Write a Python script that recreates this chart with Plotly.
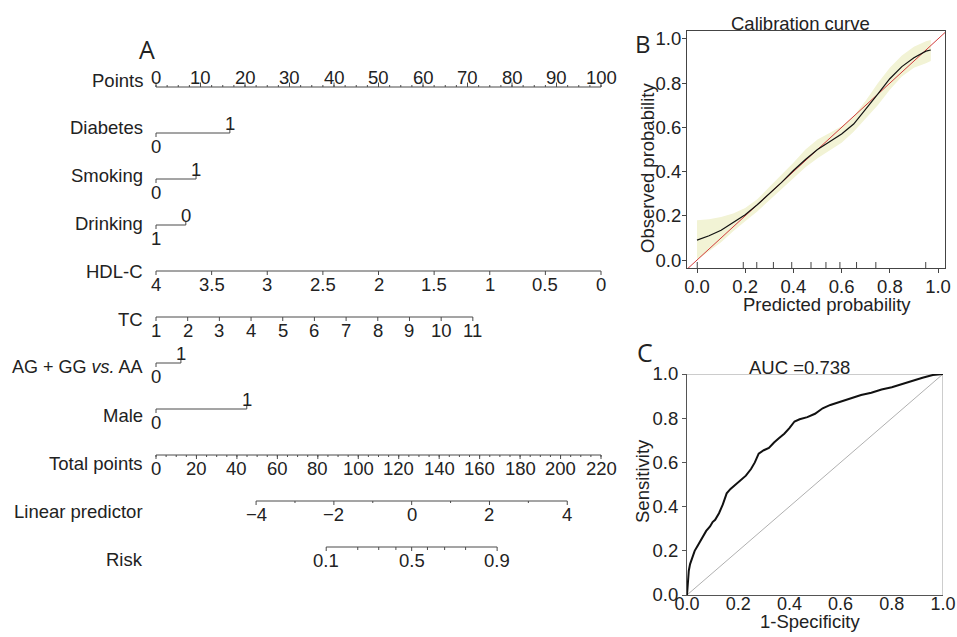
import numpy as np
import plotly.graph_objects as go

W, H = 957, 637          # window size
OFF = 0                  # body margin removed by post_script
FW, FH = W - OFF, H - OFF
FONT = "Liberation Sans"
TXT = "#222222"
LINE = "#4a4a4a"
FS = 18.5

# ---------------- Nomogram data ----------------
row_labels = ["Points", "Diabetes", "Smoking", "Drinking", "HDL-C", "TC",
              "AG + GG <i>vs.</i> AA", "Male", "Total points", "Linear predictor", "Risk"]

points_ticks = list(range(0, 101, 10))
points_minor = list(np.arange(0, 100.01, 2.5))

diabetes_levels = ["0", "1"]
diabetes_pts = [0.0, 16.6]
smoking_levels = ["0", "1"]
smoking_pts = [0.0, 9.0]
drinking_levels = ["1", "0"]
drinking_pts = [0.0, 6.7]
agg_levels = ["0", "1"]
agg_pts = [0.0, 5.6]
male_levels = ["0", "1"]
male_pts = [0.0, 20.4]

hdl_values = [4, 3.5, 3, 2.5, 2, 1.5, 1, 0.5, 0]
hdl_labels = ["4", "3.5", "3", "2.5", "2", "1.5", "1", "0.5", "0"]
hdl_max = 4.0
hdl_pts_per_unit = 25.0

tc_values = list(range(1, 12))
tc_min = 1
tc_pts_per_unit = 7.12

total_ticks = list(range(0, 221, 20))
total_minor = list(range(0, 221, 5))
total_max = 220.0

lp_ticks = [-4, -2, 0, 2, 4]
lp_minor = [-3, -1, 1, 3]
lp_zero_total = 126.4
lp_total_per_unit = 19.23

risk_ticks = [0.1, 0.5, 0.9]
risk_minor = [0.2, 0.3, 0.4, 0.6, 0.7, 0.8]

# ---------------- Calibration data ----------------
cal_x = [0.0, 0.05, 0.1, 0.15, 0.2, 0.25, 0.3, 0.35, 0.4, 0.45, 0.5, 0.55, 0.6,
         0.65, 0.7, 0.75, 0.8, 0.85, 0.9, 0.95, 0.97]
cal_obs = [0.09, 0.11, 0.135, 0.17, 0.205, 0.25, 0.3, 0.35, 0.405, 0.455, 0.5,
           0.535, 0.57, 0.615, 0.68, 0.75, 0.82, 0.875, 0.915, 0.945, 0.95]
cal_hi = [0.18, 0.185, 0.195, 0.21, 0.235, 0.275, 0.33, 0.385, 0.44, 0.5, 0.545,
          0.575, 0.605, 0.65, 0.72, 0.8, 0.87, 0.925, 0.965, 0.99, 0.995]
cal_lo = [0.0, 0.04, 0.08, 0.13, 0.175, 0.22, 0.27, 0.32, 0.37, 0.42, 0.46,
          0.495, 0.53, 0.58, 0.64, 0.7, 0.77, 0.83, 0.87, 0.89, 0.9]
cal_rug = [0.001, 0.192, 0.248, 0.317, 0.393, 0.473, 0.535, 0.593, 0.662, 0.742, 0.949]
prob_ticks = [0.0, 0.2, 0.4, 0.6, 0.8, 1.0]
prob_ticktext = ["0.0", "0.2", "0.4", "0.6", "0.8", "1.0"]

# ---------------- ROC data ----------------
roc_fpr = [0, 0.003, 0.007, 0.012, 0.02, 0.03, 0.04, 0.05, 0.06, 0.075, 0.09, 0.1,
           0.11, 0.125, 0.14, 0.155, 0.17, 0.19, 0.21, 0.23, 0.25, 0.265, 0.28, 0.3,
           0.32, 0.34, 0.36, 0.38, 0.4, 0.42, 0.44, 0.47, 0.5, 0.53, 0.56, 0.6, 0.64,
           0.68, 0.72, 0.76, 0.8, 0.84, 0.88, 0.92, 0.96, 1.0]
roc_tpr = [0, 0.05, 0.11, 0.14, 0.17, 0.2, 0.22, 0.24, 0.26, 0.29, 0.31, 0.33,
           0.34, 0.37, 0.41, 0.46, 0.48, 0.5, 0.52, 0.54, 0.57, 0.6, 0.64, 0.655,
           0.665, 0.69, 0.71, 0.73, 0.755, 0.785, 0.795, 0.805, 0.82, 0.845, 0.86,
           0.875, 0.89, 0.905, 0.915, 0.93, 0.94, 0.955, 0.97, 0.983, 0.995, 1.0]
auc_text = "AUC =0.738"

# ---------------- Layout geometry (window pixels) ----------------
PX_PER_PT = 4.45
X0_PX = 156
NOMO_R = 620
PX_PER_ROW = 46.0
ROW0_PX = 87
BELOW = 13 / PX_PER_ROW
ABOVE = -10 / PX_PER_ROW
LABEL_RIGHT_PX = 145


def dx(px):
    return (px - OFF) / FW


def dy(py):
    return 1 - (py - OFF) / FH


fig = go.Figure()
annotations = []


def add_lines(xs, ys, color=LINE, width=1, xa="x", ya="y"):
    fig.add_trace(go.Scatter(x=xs, y=ys, mode="lines", line=dict(color=color, width=width),
                             hoverinfo="skip", showlegend=False, xaxis=xa, yaxis=ya))


def ticks(xs, row, length_px, direction):
    X, Y = [], []
    for x in xs:
        X += [x, x, None]
        Y += [row, row + direction * length_px / PX_PER_ROW, None]
    return X, Y


def label(x, y, text, xanchor="center", size=FS, xref="x", yref="y"):
    annotations.append(dict(x=x, y=y, xref=xref, yref=yref, text=text, showarrow=False,
                            xanchor=xanchor, yanchor="middle",
                            font=dict(family=FONT, size=size, color=TXT)))


# Row labels
for i, name in enumerate(row_labels):
    ly = i * 1.0413 - 0.152
    label((LABEL_RIGHT_PX - X0_PX) / PX_PER_PT, ly, name, xanchor="right",
          size=18 if "vs." in name else FS)

# Points row (0)
add_lines([0, 100], [0, 0])
X, Y = ticks(points_ticks, 0, 4.5, -1)
add_lines(X, Y)
X, Y = ticks(points_minor, 0, 2, -1)
add_lines(X, Y)
for v in points_ticks:
    label(v, ABOVE, str(v))

# Binary rows
for row, levels, pts in [(1, diabetes_levels, diabetes_pts), (2, smoking_levels, smoking_pts),
                         (3, drinking_levels, drinking_pts), (6, agg_levels, agg_pts),
                         (7, male_levels, male_pts)]:
    add_lines([pts[0], pts[1]], [row, row])
    X, Y = ticks([pts[0]], row, 4, 1)
    add_lines(X, Y)
    X, Y = ticks([pts[1]], row, 4, -1)
    add_lines(X, Y)
    label(pts[0], row + BELOW, levels[0])
    label(pts[1], row + ABOVE, levels[1])

# HDL-C row (4)
hdl_pts = [(hdl_max - v) * hdl_pts_per_unit for v in hdl_values]
add_lines([min(hdl_pts), max(hdl_pts)], [4, 4])
X, Y = ticks(hdl_pts, 4, 4, 1)
add_lines(X, Y)
for p, t in zip(hdl_pts, hdl_labels):
    label(p, 4 + BELOW, t)

# TC row (5)
tc_pts = [(v - tc_min) * tc_pts_per_unit for v in tc_values]
add_lines([min(tc_pts), max(tc_pts)], [5, 5])
X, Y = ticks(tc_pts, 5, 4, 1)
add_lines(X, Y)
for p, v in zip(tc_pts, tc_values):
    label(p, 5 + BELOW, str(v))


# Total points row (8)
def tp_pos(tp):
    return tp * 100.0 / total_max


add_lines([tp_pos(0), tp_pos(total_max)], [8, 8])
X, Y = ticks([tp_pos(v) for v in total_ticks], 8, 4, 1)
add_lines(X, Y)
X, Y = ticks([tp_pos(v) for v in total_minor], 8, 2, 1)
add_lines(X, Y)
for v in total_ticks:
    label(tp_pos(v), 8 + BELOW, str(v))


# Linear predictor row (9)
def lp_pos(lp):
    return tp_pos(lp_zero_total + lp * lp_total_per_unit)


add_lines([lp_pos(min(lp_ticks)), lp_pos(max(lp_ticks))], [9, 9])
X, Y = ticks([lp_pos(v) for v in lp_ticks], 9, 4, 1)
add_lines(X, Y)
X, Y = ticks([lp_pos(v) for v in lp_minor], 9, 2, 1)
add_lines(X, Y)
for v in lp_ticks:
    label(lp_pos(v), 9 + BELOW, str(v).replace("-", "\u2212"))


# Risk row (10)
def risk_pos(p):
    return lp_pos(np.log(p / (1 - p)))


add_lines([risk_pos(min(risk_ticks)), risk_pos(max(risk_ticks))], [10, 10])
X, Y = ticks([risk_pos(v) for v in risk_ticks], 10, 4, 1)
add_lines(X, Y)
X, Y = ticks([risk_pos(v) for v in risk_minor], 10, 3, 1)
add_lines(X, Y)
for v in risk_ticks:
    label(risk_pos(v), 10 + BELOW, str(v))

# ---------------- Calibration ----------------
fig.add_trace(go.Scatter(x=cal_x + cal_x[::-1], y=cal_hi + cal_lo[::-1], fill="toself",
                         fillcolor="#f2f3d5", line=dict(width=0), mode="lines",
                         hoverinfo="skip", showlegend=False, xaxis="x2", yaxis="y2"))
add_lines([-0.05, 1.05], [-0.05, 1.05], color="#d23c3c", width=1, xa="x2", ya="y2")
add_lines(cal_x, cal_obs, color="#111111", width=1.2, xa="x2", ya="y2")
RX, RY = [], []
for r in cal_rug:
    RX += [r, r, None]
    RY += [-0.036, -0.036 + 6 / 221, None]
add_lines(RX, RY, color="#444444", width=1, xa="x2", ya="y2")

# ---------------- ROC ----------------
add_lines([0, 1], [0, 1], color="#b0b0b0", width=1, xa="x3", ya="y3")
add_lines([0, 1, 1], [1, 1, 0], color="#9a9a9a", width=1, xa="x3", ya="y3")
add_lines(roc_fpr, roc_tpr, color="#111111", width=2, xa="x3", ya="y3")


# ---------------- Text ----------------
def ptext(xpx, ypx, text, size=FS, angle=0, family=FONT):
    annotations.append(dict(x=dx(xpx), y=dy(ypx), xref="paper", yref="paper", text=text,
                            showarrow=False, xanchor="center", yanchor="middle",
                            textangle=angle, font=dict(family=family, size=size, color=TXT)))


ptext(147, 49, "A", size=25, family="Open Sans")
ptext(643, 43, "B", size=24, family="Open Sans")
ptext(645, 352, "C", size=25, family="Open Sans")
ptext(800, 23, "Calibration curve")
ptext(827, 304, "Predicted probability")
ptext(648, 168, "Observed probability", angle=-90)
ptext(799, 367, auc_text)
ptext(810, 621, "1-Specificity")
ptext(643, 481, "Sensitivity", angle=-90)

tickfont = dict(family=FONT, size=FS, color=TXT)
common = dict(showgrid=False, zeroline=False, automargin=False,
              tickvals=prob_ticks, ticktext=prob_ticktext, showline=True, linewidth=1)
fig.update_layout(
    template="none",
    width=FW, height=FH, margin=dict(l=0, r=0, t=0, b=0, pad=0, autoexpand=False),
    paper_bgcolor="white", plot_bgcolor="rgba(0,0,0,0)", showlegend=False,
    hovermode=False,
    annotations=annotations,
    xaxis=dict(domain=[0, dx(NOMO_R)],
               range=[(OFF - X0_PX) / PX_PER_PT, (NOMO_R - X0_PX) / PX_PER_PT],
               visible=False, automargin=False),
    yaxis=dict(domain=[0, 1],
               range=[(H - ROW0_PX) / PX_PER_ROW, (OFF - ROW0_PX) / PX_PER_ROW],
               visible=False, automargin=False),
    xaxis2=dict(domain=[dx(687), dx(945)], range=[-0.0415, 1.029], anchor="y2",
                ticks="outside", ticklen=4, tickcolor="#444", mirror=True, linecolor="#444",
                ticklabelstandoff=-2, tickfont=tickfont, **common),
    yaxis2=dict(domain=[dy(268), dy(31)], range=[-0.036, 1.036], anchor="x2",
                ticks="outside", ticklen=4, tickcolor="#444", mirror=True, linecolor="#444",
                ticklabelstandoff=-3, tickfont=tickfont, **common),
    xaxis3=dict(domain=[dx(687), dx(943)], range=[0, 1], anchor="y3",
                ticks="", linecolor="#555", ticklabelstandoff=-8,
                tickfont=dict(family=FONT, size=18, color=TXT), **common),
    yaxis3=dict(domain=[dy(595), dy(374)], range=[0, 1], anchor="x3",
                ticks="outside", ticklen=4, tickcolor="#555", linecolor="#555",
                tickfont=tickfont, **common),
)

fig.write_html("out.html",
               config={"displayModeBar": False, "staticPlot": True},
               post_script="document.body.style.margin='0';"
                           "document.body.style.overflow='hidden';")
